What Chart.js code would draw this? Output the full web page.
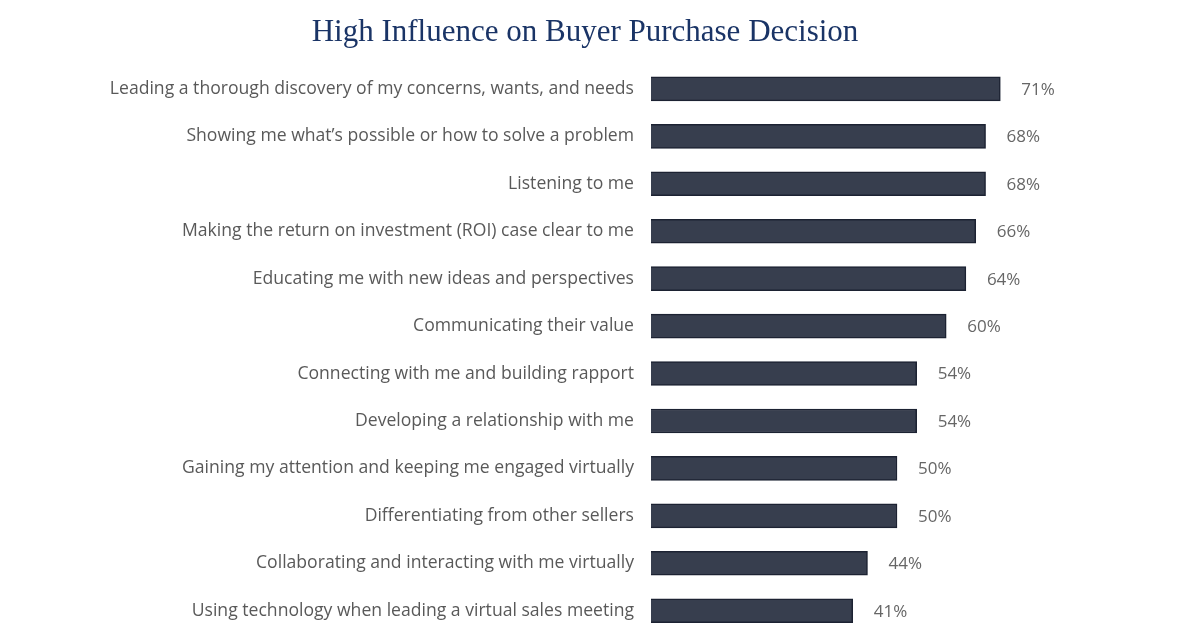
<!DOCTYPE html>
<html>
<head>
<meta charset="utf-8">
<script src="https://cdn.jsdelivr.net/npm/chart.js@4/dist/chart.umd.min.js"></script>
<style>
    html, body { margin: 0; padding: 0; background: #fff; overflow: hidden; }
    .wrap { width: 1200px; height: 662px; position: relative; }
</style>
</head>
<body>
<div class="wrap"><canvas id="influenceChart" width="1200" height="662"></canvas></div>
<script>
const categories = [
    'Leading a thorough discovery of my concerns, wants, and needs',
    'Showing me what\u2019s possible or how to solve a problem',
    'Listening to me',
    'Making the return on investment (ROI) case clear to me',
    'Educating me with new ideas and perspectives',
    'Communicating their value',
    'Connecting with me and building rapport',
    'Developing a relationship with me',
    'Gaining my attention and keeping me engaged virtually',
    'Differentiating from other sellers',
    'Collaborating and interacting with me virtually',
    'Using technology when leading a virtual sales meeting'
];
const percentages = [71, 68, 68, 66, 64, 60, 54, 54, 50, 50, 44, 41];

// draws the "71%" style labels to the right of each bar
const valueLabels = {
    id: 'valueLabels',
    afterDatasetsDraw(chart) {
        const ctx = chart.ctx;
        const meta = chart.getDatasetMeta(0);
        ctx.save();
        ctx.font = '17px "Open Sans"';
        ctx.fillStyle = '#666666';
        ctx.textAlign = 'left';
        ctx.textBaseline = 'middle';
        meta.data.forEach((bar, i) => {
            ctx.fillText(percentages[i] + '%', bar.x + 21, bar.y + 1);
        });
        ctx.restore();
    }
};

const ctx = document.getElementById('influenceChart').getContext('2d');
const influenceChart = new Chart(ctx, {
    type: 'bar',
    data: {
        labels: categories,
        datasets: [{
            data: percentages,
            backgroundColor: '#373e4e',
            borderColor: '#1c2232',
            borderWidth: 1.5,
            barThickness: 24
        }]
    },
    options: {
        indexAxis: 'y',
        responsive: false,
        animation: false,
        layout: { padding: { top: 0, left: 27, right: 57, bottom: 0 } },
        plugins: {
            legend: { display: false },
            tooltip: { enabled: false },
            title: {
                display: true,
                text: 'High Influence on Buyer Purchase Decision',
                color: '#1a3466',
                font: { family: '"Liberation Serif", serif', size: 31, weight: 'normal', lineHeight: 1.2 },
                padding: { top: 14, bottom: 14 }
            }
        },
        scales: {
            x: {
                display: false,
                min: 0,
                max: 100
            },
            y: {
                grid: { display: false, drawTicks: false },
                border: { display: false },
                ticks: {
                    color: '#595959',
                    padding: 17,
                    font: { family: '"Open Sans"', size: 17.6 }
                },
                afterFit(scale) { scale.width = 624; }
            }
        }
    },
    plugins: [valueLabels]
});
</script>
</body>
</html>
